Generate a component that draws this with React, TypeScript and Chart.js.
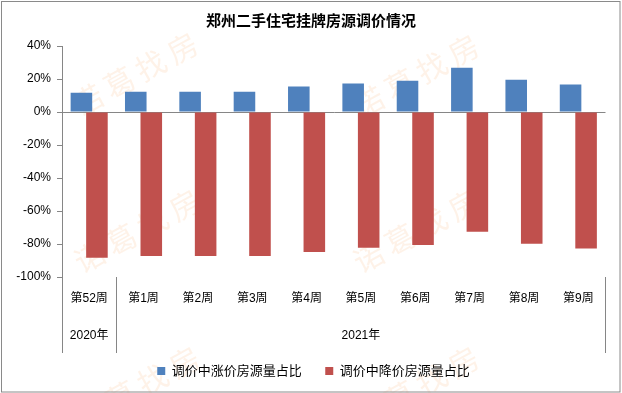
import React, { useEffect, useRef } from 'react';
import { Chart, registerables } from 'chart.js';

Chart.register(...registerables);

const chartTitle = '郑州二手住宅挂牌房源调价情况';
const categories = ['第52周', '第1周', '第2周', '第3周', '第4周', '第5周', '第6周', '第7周', '第8周', '第9周'];
const yearLabels = ['2020年', '2021年'];
const yearStartIndex = [0, 1];
const yearEndIndex = [0, 9];
const seriesNames = ['调价中涨价房源量占比', '调价中降价房源量占比'];
const riseShare = [11.7, 12.3, 12.3, 12.3, 15.4, 17.2, 19.0, 26.8, 19.6, 16.6];
const fallShare = [-88.3, -87.2, -87.2, -87.2, -84.8, -82.2, -80.6, -72.6, -79.8, -82.8];
const yMin = -100;
const yMax = 40;
const yStep = 20;
const watermarkText = '诺葛找房';

const FONT = '"Liberation Sans", "Noto Sans CJK SC", sans-serif';
const AXIS_GRAY = '#868686';

const decorPlugin = {
  id: 'decor',
  afterLayout(chart: any) {
    // centre the title and legend on the whole canvas like the original
    if (chart.titleBlock) chart.titleBlock.left = 16.5;
    if (chart.legend) chart.legend.left = 21.5;
  },
  beforeDraw(chart: any) {
    const { ctx, width, height } = chart;
    ctx.save();
    ctx.fillStyle = '#ffffff';
    ctx.fillRect(0, 0, width, height);
    ctx.font = '30px "Noto Sans CJK SC"';
    ctx.fillStyle = 'rgba(250,160,90,0.14)';
    ctx.textAlign = 'center';
    ctx.textBaseline = 'middle';
    const centers = [
      [135, 74], [416, 76], [137, 231], [416, 231], [137, 388], [416, 388],
    ];
    const ang = -0.5;
    for (const [cx, cy] of centers) {
      for (let k = 0; k < watermarkText.length; k++) {
        const d = (k - (watermarkText.length - 1) / 2) * 36;
        ctx.save();
        ctx.translate(cx + d * Math.cos(ang), cy + d * Math.sin(ang));
        ctx.rotate(ang);
        ctx.fillText(watermarkText[k], 0, 0);
        ctx.restore();
      }
    }
    ctx.restore();
  },
  afterDraw(chart: any) {
    const { ctx, chartArea, width, height } = chart;
    const xs = chart.scales.x;
    const lineBottom = xs.top + 76;
    const step = xs.getPixelForValue(1) - xs.getPixelForValue(0);
    ctx.save();
    ctx.strokeStyle = AXIS_GRAY;
    ctx.lineWidth = 1;
    const vline = (x: number) => {
      const px = Math.round(x) + 0.5;
      ctx.beginPath();
      ctx.moveTo(px, chartArea.bottom);
      ctx.lineTo(px, lineBottom);
      ctx.stroke();
    };
    vline(chartArea.left);
    ctx.font = '12px ' + FONT;
    ctx.fillStyle = '#000';
    ctx.textAlign = 'center';
    ctx.textBaseline = 'middle';
    for (let g = 0; g < yearLabels.length; g++) {
      const l = xs.getPixelForValue(yearStartIndex[g]) - step / 2;
      const r = xs.getPixelForValue(yearEndIndex[g]) + step / 2;
      vline(l);
      vline(r);
      ctx.fillText(yearLabels[g], (l + r) / 2, xs.top + 59);
    }
    // outer frame
    ctx.strokeStyle = '#8a8a8a';
    ctx.strokeRect(1.5, 1.5, width - 3.5, height - 2.5);
    ctx.restore();
  },
};

export default function App() {
  const ref = useRef<HTMLCanvasElement | null>(null);
  useEffect(() => {
    document.body.style.margin = '0';
    const canvas = ref.current;
    if (!canvas) return;
    const chart = new Chart(canvas, {
      type: 'bar',
      data: {
        labels: categories,
        datasets: [
          {
            label: seriesNames[0],
            data: riseShare,
            backgroundColor: '#4F81BD',
            borderWidth: 0,
            categoryPercentage: 0.571,
            barPercentage: 1.39,
          },
          {
            label: seriesNames[1],
            data: fallShare,
            backgroundColor: '#C0504D',
            borderWidth: 0,
            categoryPercentage: 0.571,
            barPercentage: 1.39,
          },
        ],
      },
      options: {
        responsive: false,
        animation: false,
        devicePixelRatio: 1,
        layout: { padding: { left: 0, right: 16.5, top: 0, bottom: 5.5 } },
        plugins: {
          title: {
            display: true,
            text: chartTitle,
            color: '#000',
            font: { family: '"Noto Sans CJK SC", sans-serif', size: 15, weight: 'bold' },
            padding: { top: 11, bottom: 17 },
          },
          legend: {
            display: true,
            position: 'bottom',
            labels: {
              boxWidth: 8,
              boxHeight: 8,
              padding: 23.5,
              color: '#000',
              font: { family: FONT, size: 13 },
            },
          },
          tooltip: { enabled: false },
        },
        scales: {
          x: {
            grid: { display: false, drawTicks: false },
            border: { display: false },
            ticks: {
              color: '#000',
              font: { family: FONT, size: 12 },
              padding: 14,
              maxRotation: 0,
              autoSkip: false,
            },
            afterFit: (s: any) => {
              s.height = 64;
            },
          },
          y: {
            min: yMin,
            max: yMax,
            ticks: {
              stepSize: yStep,
              color: '#000',
              font: { family: FONT, size: 12 },
              padding: 6,
              callback: (v: any) => v + '%',
            },
            grid: {
              color: (c: any) => (c.tick && c.tick.value === 0 ? AXIS_GRAY : 'rgba(0,0,0,0)'),
              tickColor: AXIS_GRAY,
              tickLength: 5,
              drawTicks: true,
            },
            border: { display: true, color: AXIS_GRAY },
            afterFit: (s: any) => {
              s.width = 62;
            },
          },
        },
      },
      plugins: [decorPlugin],
    } as any);
    return () => chart.destroy();
  }, []);
  return (
    <div style={{ width: 622, height: 393 }}>
      <canvas ref={ref} width={622} height={393} style={{ display: 'block' }} />
    </div>
  );
}
